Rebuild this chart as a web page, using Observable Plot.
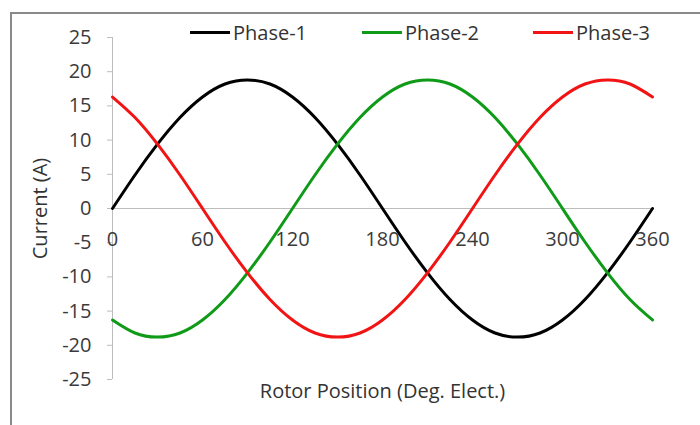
<!DOCTYPE html>
<html>
<head>
<meta charset="utf-8">
<script src="https://cdn.jsdelivr.net/npm/d3@7"></script>
<script src="https://cdn.jsdelivr.net/npm/@observablehq/plot@0.6"></script>
<style>
  html, body { margin: 0; padding: 0; background: #fff; }
  #wrap { position: relative; width: 700px; height: 425px; overflow: hidden; font-family: "Open Sans", sans-serif; }
  #frame { position: absolute; left: 10px; top: 12px; width: 720px; height: 440px; border: 2px solid #8a8a8a; box-sizing: border-box; }
  #chart { position: absolute; left: 0; top: 0; }
  #legend { position: absolute; top: 19px; left: 0; width: 700px; height: 28px; font-size: 20px; color: #333; }
  .item { position: absolute; display: flex; align-items: center; }
  .sw { display: inline-block; width: 40px; height: 3px; margin-right: 3px; }
</style>
</head>
<body>
<div id="wrap">
  <div id="frame"></div>
  <div id="chart"></div>
  <div id="legend"></div>
</div>
<script>
const theta = [0,15,30,45,60,75,90,105,120,135,150,165,180,195,210,225,240,255,270,285,300,315,330,345,360];
const phase1 = [0,4.9,9.4,13.3,16.3,18.2,18.8,18.2,16.3,13.3,9.4,4.9,0,-4.9,-9.4,-13.3,-16.3,-18.2,-18.8,-18.2,-16.3,-13.3,-9.4,-4.9,0];
const phase2 = [-16.3,-18.2,-18.8,-18.2,-16.3,-13.3,-9.4,-4.9,0,4.9,9.4,13.3,16.3,18.2,18.8,18.2,16.3,13.3,9.4,4.9,0,-4.9,-9.4,-13.3,-16.3];
const phase3 = [16.3,13.3,9.4,4.9,0,-4.9,-9.4,-13.3,-16.3,-18.2,-18.8,-18.2,-16.3,-13.3,-9.4,-4.9,0,4.9,9.4,13.3,16.3,18.2,18.8,18.2,16.3];
const seriesNames = ["Phase-1","Phase-2","Phase-3"];
const seriesColors = ["#000000","#0f9a17","#f21414"];
const xTicks = [0,60,120,180,240,300,360];
const yTicks = [-25,-20,-15,-10,-5,0,5,10,15,20,25];

const rows = [];
[phase1, phase2, phase3].forEach((arr, k) => {
  arr.forEach((v, i) => rows.push({theta: theta[i], value: v, series: seriesNames[k]}));
});

const plot = Plot.plot({
  width: 700,
  height: 425,
  marginLeft: 112,
  marginRight: 48,
  marginTop: 37,
  marginBottom: 46,
  style: {fontFamily: "Open Sans, sans-serif", fontSize: "20px", background: "transparent", color: "#3a3a3a"},
  x: {domain: [0, 360], axis: null},
  y: {domain: [-25, 25], axis: null},
  color: {domain: seriesNames, range: seriesColors},
  marks: [
    Plot.ruleX([0], {y1: -25, y2: 25, stroke: "#bdbdbd", strokeWidth: 1}),
    Plot.ruleY([0], {stroke: "#bdbdbd", strokeWidth: 1}),
    Plot.axisY({ticks: yTicks, tickSize: 5, tickPadding: 16, stroke: "#bdbdbd", tickFormat: d => String(d), fill: "#3a3a3a", fontSize: 20, label: null}),
    Plot.line(rows, {x: "theta", y: "value", z: "series", stroke: "series", strokeWidth: 3, curve: "natural"}),
    Plot.text(xTicks, {x: d => d, y: 0, dy: 31, text: d => String(d), fill: "#3a3a3a", fontSize: 20}),
    Plot.text(["Current (A)"], {frameAnchor: "left", textAnchor: "middle", dx: -72, rotate: -90, fill: "#333", fontSize: 20}),
    Plot.text(["Rotor Position (Deg. Elect.)"], {frameAnchor: "bottom", dy: 18, fill: "#333", fontSize: 20})
  ]
});
document.getElementById("chart").appendChild(plot);

const legendPos = [190, 362, 533];
const legend = document.getElementById("legend");
seriesNames.forEach((name, i) => {
  const item = document.createElement("div");
  item.className = "item";
  item.style.left = legendPos[i] + "px";
  const sw = document.createElement("span");
  sw.className = "sw";
  sw.style.background = seriesColors[i];
  const t = document.createElement("span");
  t.textContent = name;
  item.appendChild(sw);
  item.appendChild(t);
  legend.appendChild(item);
});
</script>
</body>
</html>
